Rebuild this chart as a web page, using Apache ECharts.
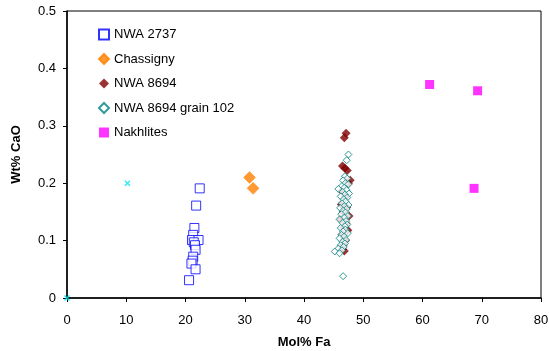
<!DOCTYPE html>
<html>
<head>
<meta charset="utf-8">
<script src="https://cdn.jsdelivr.net/npm/echarts@6/dist/echarts.min.js"></script>
<style>
html,body{margin:0;padding:0;background:#fff;}
#main{width:549px;height:351px;}
</style>
</head>
<body>
<div id="main"></div>
<script>
// data: [Mol% Fa, Wt% CaO]
var nwa2737=[[22.4,0.191],[21.8,0.161],[21.5,0.122],[21.3,0.110],[21.1,0.101],[22.2,0.101],[21.4,0.097],
	[21.6,0.092],[21.7,0.084],[21.3,0.072],[21.2,0.065],[21.0,0.060],[21.7,0.050],[20.6,0.031]];
var chassigny=[[30.8,0.210],[31.4,0.191]];
var nwa8694=[[47.1,0.287],[46.8,0.279],[46.5,0.230],[46.9,0.226],[47.3,0.222],[47.8,0.205],[47.5,0.200],
	[46.4,0.186],[47.0,0.176],[46.3,0.163],[47.2,0.158],[46.6,0.150],[47.6,0.143],[46.2,0.137],[47.1,0.130],
	[46.7,0.122],[47.4,0.118],[46.4,0.110],[47.0,0.100],[46.6,0.092],[46.8,0.082],[46.5,0.085]];
var grain102=[[47.5,0.250],[47.2,0.240],[46.9,0.212],[47.3,0.208],[46.6,0.205],[47.0,0.200],[47.5,0.198],
	[46.4,0.195],[45.8,0.190],[46.8,0.192],[47.2,0.188],[46.5,0.185],[47.6,0.182],[46.9,0.180],[46.2,0.177],
	[47.3,0.175],[46.7,0.172],[47.0,0.168],[46.4,0.165],[47.5,0.162],[46.8,0.160],[46.1,0.157],[47.2,0.155],
	[46.6,0.152],[47.0,0.149],[46.3,0.146],[47.4,0.143],[46.8,0.140],[46.0,0.137],[47.1,0.134],[46.5,0.131],
	[47.3,0.128],[46.9,0.125],[46.2,0.122],[47.0,0.119],[46.6,0.116],[47.4,0.113],[46.3,0.110],[46.8,0.107],
	[46.0,0.104],[47.1,0.101],[46.5,0.098],[46.9,0.095],[46.2,0.092],[46.7,0.089],[45.8,0.086],[46.4,0.083],
	[45.2,0.081],[46.0,0.078],[46.6,0.038]];
var nakhlites=[[61.2,0.372],[69.3,0.361],[68.7,0.191]];
var extra=[[10.2,0.200],[0,0]];
var seriesNames=['NWA 2737','Chassigny','NWA 8694','NWA 8694 grain 102','Nakhlites'];

var myChart=echarts.init(document.getElementById('main'));
var font='Liberation Sans, Arial, sans-serif';
var option={
	animation:false,
	textStyle:{fontFamily:font},
	grid:{left:67,right:8,top:11,bottom:53,show:true,borderColor:'#000',borderWidth:1,
		containLabel:false,outerBoundsMode:'none'},
	legend:{
		data:[
			{name:seriesNames[0],icon:'rect'},
			{name:seriesNames[1],icon:'diamond'},
			{name:seriesNames[2],icon:'diamond'},
			{name:seriesNames[3],icon:'diamond'},
			{name:seriesNames[4],icon:'rect'}
		],
		orient:'vertical',left:93,top:23,
		itemWidth:10,itemHeight:10,itemGap:11.5,
		textStyle:{fontSize:13,color:'#000',fontFamily:font}
	},
	xAxis:{
		type:'value',min:0,max:80,interval:10,
		name:'Mol% Fa',nameLocation:'middle',nameGap:38,
		nameTextStyle:{fontSize:13,fontWeight:'bold',color:'#000'},
		axisLine:{lineStyle:{color:'#000',width:1.5}},
		axisTick:{lineStyle:{color:'#000'},length:4},
		axisLabel:{fontSize:13,color:'#000',margin:16},
		splitLine:{show:false}
	},
	yAxis:{
		type:'value',min:0,max:0.5,interval:0.1,
		name:'Wt% CaO',nameLocation:'middle',nameGap:44,
		nameTextStyle:{fontSize:13,fontWeight:'bold',color:'#000'},
		axisLine:{lineStyle:{color:'#000',width:1.5}},
		axisTick:{lineStyle:{color:'#000'},length:4},
		axisLabel:{fontSize:13,color:'#000',margin:11},
		splitLine:{show:false}
	},
	series:[{
		name:seriesNames[0],type:'scatter',symbol:'rect',symbolSize:9,
		itemStyle:{color:'#fff',borderColor:'#0000ff',borderWidth:1},
		data:nwa2737
	},{
		name:seriesNames[1],type:'scatter',symbol:'diamond',symbolSize:12,
		itemStyle:{color:'#ff8000',borderColor:'#ff8000',borderWidth:0.5},
		data:chassigny
	},{
		name:seriesNames[2],type:'scatter',symbol:'diamond',symbolSize:9,
		itemStyle:{color:'#800000'},
		data:nwa8694
	},{
		name:seriesNames[3],type:'scatter',symbol:'diamond',symbolSize:7,
		itemStyle:{color:'#fff',borderColor:'#008080',borderWidth:1},
		data:grain102
	},{
		name:seriesNames[4],type:'scatter',symbol:'rect',symbolSize:9,
		itemStyle:{color:'#ff00ff'},
		data:nakhlites
	},{
		name:'other',type:'scatter',symbol:'path://M0,0L10,10M10,0L0,10',symbolSize:5,
		itemStyle:{color:'none',borderColor:'#00e5ee',borderWidth:1.5},
		data:extra
	}]
};
myChart.setOption(option);
</script>
</body>
</html>
